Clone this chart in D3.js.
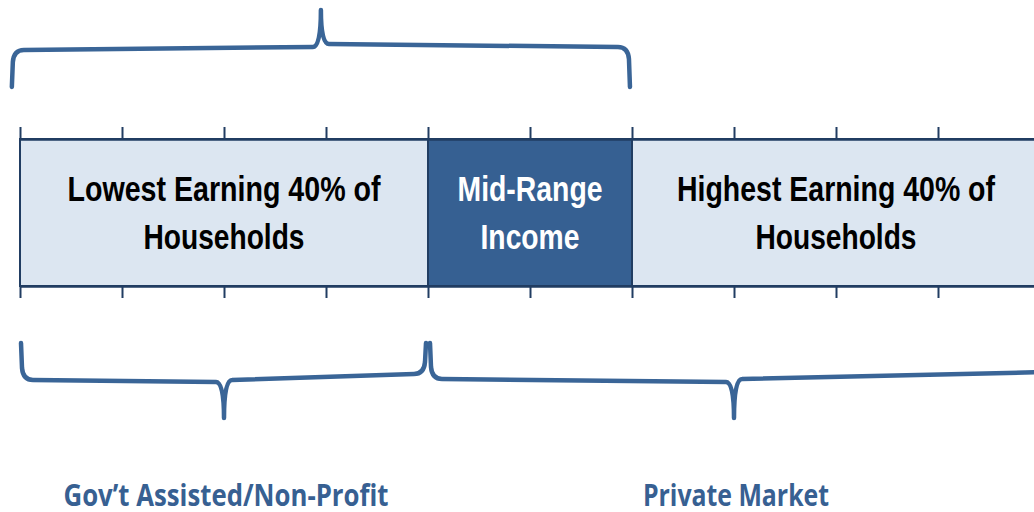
<!DOCTYPE html>
<html>
<head>
<meta charset="utf-8">
<script src="https://cdn.jsdelivr.net/npm/d3@7"></script>
<style>
  html, body { margin: 0; padding: 0; background: #fff; overflow: hidden; }
  .seg-label { font-family: "Liberation Sans Narrow", "Arial Narrow", "Liberation Sans", Arial, sans-serif; font-weight: bold; font-size: 35px; }
  .group-label { font-family: "Open Sans", Lato, sans-serif; font-weight: bold; font-size: 30px; fill: #376092; }
</style>
</head>
<body>
<div id="chart"></div>
<script>
// segments of the household income range (percent of households)
const segLines = [["Lowest Earning 40% of", "Households"], ["Mid-Range", "Income"], ["Highest Earning 40% of", "Households"]];
const segShare = [40, 20, 40];
const tickValues = [0, 10, 20, 30, 40, 50, 60, 70, 80, 90, 100];

// braces below the bar
const groupLabels = ["Gov’t Assisted/Non-Profit", "Private Market"];
const groupFrom = [0, 40];
const groupTo = [40, 100];

// brace above the bar (unlabeled)
const topBrace = [-0.8, 59.8];

const width = 1034, height = 512;
const light = "#dce6f1", dark = "#366092", edge = "#213d62", braceCol = "#3a6597";

// text widths as they appear in the picture (it's squeezed sideways)
const segWidths = [[313, 161], [145, 99], [318, 161]];
const groupWidths = [325, 186];

const svg = d3.select("#chart").append("svg")
  .attr("width", width)
  .attr("height", height);

const x = d3.scaleLinear().domain([0, 100]).range([20, 1040]);
const barTop = 139, barBottom = 286;

let acc = 0;
const segs = segShare.map((v, i) => {
  const s = { start: acc, end: acc + v, lines: segLines[i], w: segWidths[i], mid: i === 1 };
  acc += v;
  return s;
});

svg.selectAll("rect.seg")
  .data(segs)
  .enter().append("rect")
  .attr("class", "seg")
  .attr("x", d => x(d.start))
  .attr("y", barTop)
  .attr("width", d => x(d.end) - x(d.start))
  .attr("height", barBottom - barTop)
  .attr("fill", d => d.mid ? dark : light)
  .attr("stroke", edge)
  .attr("stroke-width", 2);

const lbl = svg.selectAll("g.lbl")
  .data(segs)
  .enter().append("g")
  .attr("class", "lbl");

[201, 249].forEach((y, k) => {
  lbl.append("text")
    .attr("class", "seg-label")
    .attr("x", d => (x(d.start) + x(d.end)) / 2)
    .attr("y", y)
    .attr("text-anchor", "middle")
    .attr("fill", d => d.mid ? "#fff" : "#000")
    .attr("textLength", d => d.w[k])
    .attr("lengthAdjust", "spacingAndGlyphs")
    .text(d => d.lines[k]);
});

// tick rails along top and bottom of the bar
const axTop = d3.axisTop(x).tickValues(tickValues).tickSize(12).tickSizeOuter(0).tickFormat("");
const axBot = d3.axisBottom(x).tickValues(tickValues).tickSize(12).tickSizeOuter(0).tickFormat("");

[[axTop, barTop], [axBot, barBottom]].forEach(([ax, y]) => {
  const g = svg.append("g").attr("transform", `translate(0,${y})`).call(ax);
  g.select(".domain").attr("stroke", edge).attr("stroke-width", 2.5);
  g.selectAll(".tick line").attr("stroke", edge).attr("stroke-width", 2);
});

// curly brace, hand-drawn look: the line is a bit tilted on each side of the spike
// ys = [line y at left end, just left of spike, just right of spike, right end]
function bracePath(x0, xm, x1, yArm, ys, yTip) {
  const d = Math.sign(yArm - ys[0]);
  return `M${x0},${yArm} L${x0 + 1},${ys[0] + d * 12} Q${x0 + 2},${ys[0]} ${x0 + 12},${ys[0]}` +
    ` L${xm - 8},${ys[1]} Q${xm},${ys[1]} ${xm},${yTip} Q${xm},${ys[2]} ${xm + 8},${ys[2]}` +
    ` L${x1 - 12},${ys[3]} Q${x1 - 2},${ys[3]} ${x1 - 1},${ys[3] + d * 12} L${x1},${yArm}`;
}

function styleBrace(sel) {
  sel.attr("fill", "none")
    .attr("stroke", braceCol)
    .attr("stroke-width", 4.5)
    .attr("stroke-linejoin", "round")
    .attr("stroke-linecap", "round");
}

const tx0 = x(topBrace[0]), tx1 = x(topBrace[1]);
svg.append("path")
  .attr("d", bracePath(tx0, (tx0 + tx1) / 2, tx1, 87, [50, 47, 44, 47], 10))
  .call(styleBrace);

const groups = groupLabels.map((t, i) => ({ label: t, from: groupFrom[i], to: groupTo[i], w: groupWidths[i] }));
const groupTilt = [[380, 382, 380, 374], [379, 382, 379, 372]];

svg.selectAll("path.brace")
  .data(groups)
  .enter().append("path")
  .attr("class", "brace")
  .attr("d", (d, i) => {
    const a = x(d.from) + (d.from > 0 ? 2 : 1);
    // last brace runs off the right edge of the picture
    const b = d.to >= 100 ? x(d.to) + 20 : x(d.to) - 2;
    return bracePath(a, x((d.from + d.to) / 2), b, 343, groupTilt[i], 418);
  })
  .call(styleBrace);

svg.selectAll("text.group-label")
  .data(groups)
  .enter().append("text")
  .attr("class", "group-label")
  .attr("x", d => (x(d.from) + x(d.to)) / 2 + 2)
  .attr("y", 506)
  .attr("text-anchor", "middle")
  .attr("textLength", d => d.w)
  .attr("lengthAdjust", "spacingAndGlyphs")
  .text(d => d.label);
</script>
</body>
</html>
